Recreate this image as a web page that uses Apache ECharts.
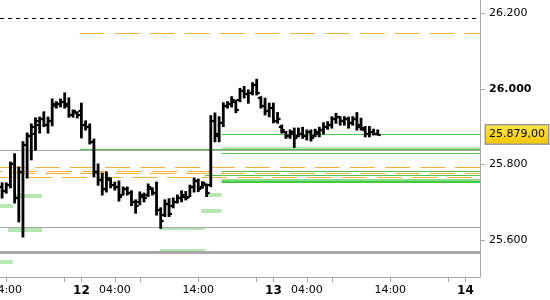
<!DOCTYPE html>
<html><head><meta charset="utf-8">
<script src="https://cdn.jsdelivr.net/npm/echarts@6/dist/echarts.min.js"></script>
<style>html,body{margin:0;padding:0;background:#fff}#c{width:550px;height:300px}</style>
</head><body><div id="c"></div>
<script>
// 30-minute bars, one per slot (slot index = array index)
const opens  = [25740,25730,25745,25800,25710,25780,25850,25875,25880,25905,25920,25905,25915,25955,25960,25965,25960,25930,25935,25940,
                25905,25900,25860,25780,25760,25735,25760,25745,25740,25720,25735,25725,25700,25700,25715,25720,25735,25725,25680,25665,
                25695,25690,25700,25710,25715,25715,25740,25755,25740,25745,25745,25915,25875,25910,25955,25960,25965,25970,25995,25985,
                25990,26010,25975,25955,25940,25950,25915,25900,25885,25875,25880,25875,25880,25875,25885,25875,25880,25890,25900,25905,
                25920,25925,25915,25920,25910,25920,25905,25890,25880,25885,25880];
const highs  = [25751,25751,25806,25828,25793,25860,25883,25907,25923,25925,25939,25925,25973,25966,25973,25989,25976,25944,25939,25962,
                25915,25907,25867,25801,25777,25780,25764,25753,25756,25740,25740,25730,25706,25727,25724,25748,25738,25753,25685,25706,
                25709,25711,25719,25730,25728,25745,25764,25761,25754,25748,25929,25936,25926,25963,25966,25979,25970,26001,26006,25997,
                26016,26025,25979,25975,25962,25962,25937,25904,25887,25891,25896,25896,25898,25891,25891,25893,25898,25910,25913,25926,
                25935,25926,25926,25925,25926,25937,25922,25900,25900,25893,25891];
const lows   = [25711,25724,25738,25698,25648,25608,25764,25812,25838,25883,25900,25883,25902,25949,25952,25949,25925,25925,25923,25870,
                25891,25854,25767,25745,25719,25727,25738,25732,25703,25719,25719,25691,25671,25693,25701,25715,25719,25666,25631,25662,
                25662,25685,25698,25701,25706,25715,25727,25728,25737,25715,25741,25860,25860,25900,25949,25952,25937,25966,25976,25962,
                25984,25984,25949,25931,25926,25910,25909,25883,25869,25869,25845,25873,25869,25865,25862,25873,25873,25881,25893,25896,
                25909,25904,25904,25896,25904,25891,25891,25873,25873,25878,25878];
const closes = [25730,25745,25800,25710,25780,25850,25875,25900,25915,25920,25905,25915,25960,25960,25965,25955,25930,25940,25930,25905,
                25900,25860,25780,25760,25735,25765,25745,25740,25715,25735,25725,25700,25690,25720,25710,25740,25725,25680,25650,25695,
                25670,25700,25710,25720,25710,25740,25755,25735,25750,25725,25915,25880,25910,25955,25960,25970,25945,25995,25985,25990,
                26010,25990,25955,25940,25950,25915,25920,25890,25875,25885,25870,25880,25875,25885,25870,25885,25890,25900,25905,25920,
                25925,25915,25920,25910,25920,25900,25895,25880,25885,25880,25879];

// x-axis tick labels (slot index -> text)
const xLabelSlots = [1, 19, 27, 47, 65, 73, 93, 111];
const xLabelTexts = ['14:00', '12', '04:00', '14:00', '13', '04:00', '14:00', '14'];
const xDayLabels = ['12', '13', '14'];
const xMinorTickSlots = [15, 33, 61, 79, 107];
// y-axis tick labels
const yTicks = [25600, 25800, 26000, 26200];

// horizontal levels: [fromSlot, toSlot, price]
const blackDashLevels = [[-0.5, 114.5, 26187]];
const orangeLevels = [[18.6, 114.5, 26147], [-0.5, 114.5, 25792], [-0.5, 114.5, 25782], [-0.5, 114.5, 25777], [-0.5, 114.5, 25766]];
const grayLevels = [[-0.5, 114.5, 25836], [-0.5, 114.5, 25634]];
const grayThickLevels = [[-0.5, 114.5, 25568]];
const greenLevels = [[18.6, 114.5, 25840], [52.6, 114.5, 25829], [52.6, 114.5, 25782], [48.6, 114.5, 25770]];
const greenBoldLevels = [[52.6, 114.5, 25753]];
const paleGreenLineLevels = [[52.6, 114.5, 25759]];
const zoneLevels = [[52.6, 114.5, 25841], [2.9, 9.6, 25717], [48.8, 52.6, 25719], [-0.5, 2.6, 25690],
                    [47.7, 52.6, 25677], [1.4, 9.6, 25627], [37.8, 48.6, 25570], [-0.5, 2.6, 25541]];
const zoneThinLevels = [[37.8, 48.6, 25630]];
const currentFromSlot = 52.6;

const orangeDashOffsets = [0, 0, 23, 25, 8];

const FONT = 'DejaVu Sans';
const fmtThousands = v => String(Math.round(v)).replace(/\B(?=(\d{3})+(?!\d))/g, '.');
const fmtPrice = v => { const s = v.toFixed(2).split('.'); return s[0].replace(/\B(?=(\d{3})+(?!\d))/g, '.') + ',' + s[1]; };

function levelSeries(name, data, color, width, dash, offsets, z) {
  return {
    type: 'custom', name, data, z, silent: true, animation: false,
    encode: { x: [0, 1], y: 2 },
    renderItem: (params, api) => {
      const a = api.coord([api.value(0), api.value(2)]);
      const b = api.coord([api.value(1), api.value(2)]);
      let y = a[1];
      if (Math.round(width) % 2 === 1) y = Math.round(y - 0.5) + 0.5; else y = Math.round(y);
      return {
        type: 'line',
        shape: { x1: a[0], y1: y, x2: b[0], y2: y },
        style: { stroke: color, lineWidth: width, lineDash: dash || null,
                 lineDashOffset: offsets ? offsets[params.dataIndex] : 0 }
      };
    }
  };
}

const ohlcData = opens.map((o, i) => [i, o, highs[i], lows[i], closes[i]]);
const last = closes[closes.length - 1];

const chart = echarts.init(document.getElementById('c'), null, { renderer: 'canvas' });
chart.setOption({
  animation: false,
  backgroundColor: '#fff',
  textStyle: { fontFamily: FONT },
  grid: { left: 0, right: 70, top: 0, bottom: 23, containLabel: false, outerBoundsMode: 'none' },
  xAxis: {
    type: 'value', min: -0.5, max: 114.5,
    splitLine: { show: false },
    axisLine: { onZero: false, lineStyle: { color: '#a8a8a8', width: 1 } },
    axisTick: { show: true, length: 5, lineStyle: { color: '#a8a8a8' },
                customValues: xLabelSlots.concat(xMinorTickSlots) },
    axisLabel: {
      customValues: xLabelSlots, margin: 8, color: '#000', fontSize: 11, fontFamily: FONT,
      formatter: v => {
        const k = xLabelSlots.indexOf(Math.round(v));
        const t = k >= 0 ? xLabelTexts[k] : '';
        return xDayLabels.includes(t) ? '{b|' + t + '}' : t;
      },
      rich: { b: { fontWeight: 'bold', fontSize: 12, color: '#000', fontFamily: FONT } }
    }
  },
  yAxis: {
    type: 'value', position: 'right', min: 25502, max: 26235,
    splitLine: { show: false },
    axisLine: { show: true, onZero: false, lineStyle: { color: '#a8a8a8', width: 1 } },
    axisTick: { show: true, length: 5, lineStyle: { color: '#a8a8a8' }, customValues: yTicks },
    axisLabel: {
      customValues: yTicks, margin: 9, color: '#000', fontSize: 11, fontFamily: FONT,
      formatter: v => v === 26000 ? '{b|' + fmtThousands(v) + '}' : fmtThousands(v),
      rich: { b: { fontWeight: 'bold', fontSize: 11, color: '#000', fontFamily: FONT } }
    }
  },
  series: [
    levelSeries('zones', zoneLevels, '#b5e7b1', 4, null, null, 1),
    levelSeries('zonesThin', zoneThinLevels, '#b5e7b1', 2, null, null, 1),
    levelSeries('gray', grayLevels, '#a8a8a8', 1, null, null, 2),
    levelSeries('grayThick', grayThickLevels, '#a8a8a8', 3, null, null, 2),
    levelSeries('blackDash', blackDashLevels, '#000', 1, [4, 4], null, 2),
    levelSeries('orange', orangeLevels, '#f4b035', 1.2, [25, 10], orangeDashOffsets, 3),
    levelSeries('green', greenLevels, '#4fc24f', 1, null, null, 4),
    levelSeries('paleGreen', paleGreenLineLevels, '#8fd98c', 2, null, null, 4),
    levelSeries('greenBold', greenBoldLevels, '#3fcc3f', 2, null, null, 4),
    {
      type: 'line', name: 'last', z: 5, silent: true, animation: false,
      symbol: 'none',
      data: [[currentFromSlot, last], [114.5, last]],
      lineStyle: { color: '#46c846', width: 1 },
      endLabel: {
        show: true, distance: 6, formatter: () => fmtPrice(last),
        color: '#000', fontSize: 11, fontFamily: FONT,
        padding: [4, 3, 3, 3],
        borderColor: '#9a9a9a', borderWidth: 1.5,
        backgroundColor: new echarts.graphic.LinearGradient(0, 0, 0, 1, [
          { offset: 0, color: '#ffe84a' }, { offset: 1, color: '#f3c300' }])
      }
    },
    {
      type: 'custom', name: 'ohlc', z: 10, animation: false, silent: true,
      data: ohlcData,
      encode: { x: 0, y: [1, 2, 3, 4] },
      renderItem: (params, api) => {
        const i = api.value(0);
        const o = api.coord([i, api.value(1)]);
        const h = api.coord([i, api.value(2)]);
        const l = api.coord([i, api.value(3)]);
        const c = api.coord([i, api.value(4)]);
        const x = o[0];
        const st = { stroke: '#000', lineWidth: 2.8 };
        return {
          type: 'group', children: [
            { type: 'line', shape: { x1: x, y1: h[1] - 0.5, x2: x, y2: l[1] + 0.5 }, style: st },
            { type: 'line', shape: { x1: x - 3, y1: Math.round(o[1]), x2: x, y2: Math.round(o[1]) }, style: { stroke: '#000', lineWidth: 2.2 } },
            { type: 'line', shape: { x1: x, y1: Math.round(c[1]), x2: x + 3, y2: Math.round(c[1]) }, style: { stroke: '#000', lineWidth: 2.2 } }
          ]
        };
      }
    }
  ]
});
</script>
</body></html>
